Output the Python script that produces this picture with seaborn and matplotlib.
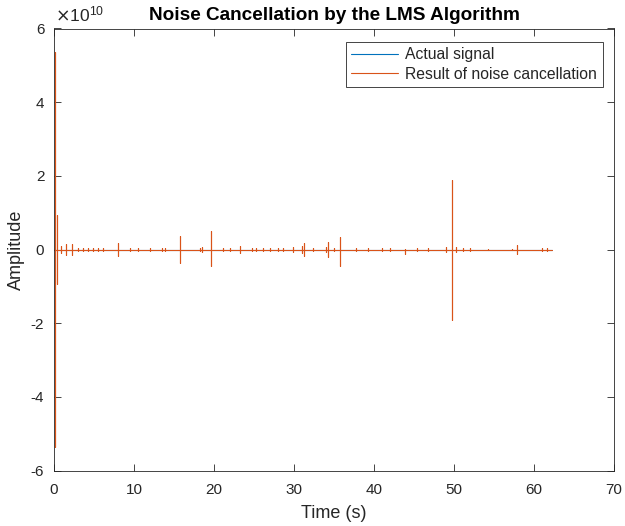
import numpy as np
import pandas as pd
import matplotlib
matplotlib.use("Agg")
import matplotlib.pyplot as plt
import seaborn as sns
from matplotlib.ticker import FuncFormatter
from matplotlib.lines import Line2D

# ---- data (amplitudes in units of 1e10) ----
spike_times = [0.15, 0.35, 0.4, 0.84, 1.5, 2.3, 3.0, 3.6, 4.3, 4.9, 5.5, 6.1, 8.0,
               9.5, 10.5, 12.0, 13.5, 13.9, 15.7, 18.3, 18.5, 19.6, 21.1, 22.0, 23.2,
               24.7, 25.3, 26.1, 27.0, 28.0, 28.6, 29.9, 31.0, 31.3, 32.4, 34.0, 34.3,
               35.0, 35.8, 37.8, 39.3, 41.0, 42.0, 43.9, 45.4, 46.8, 49.0, 49.8, 50.2,
               51.1, 52.0, 54.3, 57.3, 57.9, 61.0, 61.6]
spike_pos = [5.36, 0.45, 0.95, 0.10, 0.14, 0.14, 0.04, 0.04, 0.04, 0.04, 0.04, 0.04, 0.18,
             0.04, 0.04, 0.04, 0.04, 0.04, 0.36, 0.04, 0.08, 0.50, 0.03, 0.03, 0.10,
             0.03, 0.03, 0.03, 0.03, 0.03, 0.03, 0.06, 0.10, 0.19, 0.05, 0.08, 0.20,
             0.04, 0.33, 0.03, 0.03, 0.03, 0.03, 0.02, 0.03, 0.04, 0.08, 1.90, 0.08,
             0.03, 0.03, 0.02, 0.02, 0.12, 0.03, 0.03]
spike_neg = [-5.36, -0.45, -0.95, -0.10, -0.14, -0.14, -0.04, -0.04, -0.04, -0.04, -0.04, -0.04, -0.18,
             -0.04, -0.04, -0.04, -0.04, -0.04, -0.36, -0.04, -0.08, -0.45, -0.03, -0.03, -0.10,
             -0.03, -0.03, -0.03, -0.03, -0.03, -0.03, -0.06, -0.10, -0.19, -0.05, -0.08, -0.20,
             -0.04, -0.44, -0.03, -0.03, -0.03, -0.03, -0.12, -0.03, -0.04, -0.08, -1.92, -0.08,
             -0.03, -0.03, -0.02, -0.02, -0.12, -0.03, -0.03]
t_start, t_end = 0.0, 62.2
actual_times = [0.0, 62.2]
actual_values = [0.0, 0.0]
scale = 1e10

# build the cancellation result trace from the listed spikes
rt, ry = [t_start], [0.0]
for t, p, n in zip(spike_times, spike_pos, spike_neg):
    rt += [t, t, t, t]
    ry += [0.0, p * scale, n * scale, 0.0]
rt.append(t_end)
ry.append(0.0)

df = pd.concat([
    pd.DataFrame({"Time": actual_times, "Amp": actual_values, "Series": "Actual signal"}),
    pd.DataFrame({"Time": rt, "Amp": ry, "Series": "Result of noise cancellation"}),
], ignore_index=True)

sns.set_theme(style="white")
plt.rcParams["font.family"] = ["Liberation Sans", "DejaVu Sans"]
plt.rcParams["axes.unicode_minus"] = False

blue = (0.0, 0.447, 0.741)
orange = (0.85, 0.325, 0.098)
dark = "#262626"

fig = plt.figure(figsize=(6.25, 5.26), dpi=100)
ax = fig.add_axes([54 / 625, 1 - 470.5 / 526, (614 - 54) / 625, (470.5 - 28.5) / 526])

sns.lineplot(data=df, x="Time", y="Amp", hue="Series", estimator=None, sort=False,
             palette={"Actual signal": blue, "Result of noise cancellation": orange},
             linewidth=0.8, ax=ax, legend=False)

ax.set_xlim(0, 70)
ax.set_ylim(-6e10, 6e10)
ax.set_xticks(np.arange(0, 71, 10))
ax.set_yticks(np.arange(-6e10, 6.1e10, 2e10))
ax.yaxis.set_major_formatter(FuncFormatter(lambda v, p: f"{v / scale:g}"))

ax.tick_params(direction="in", length=5, width=0.6, colors=dark, labelsize=11, pad=7,
               top=True, right=True, bottom=True, left=True)
ax.tick_params(axis="x", pad=9)
for s in ax.spines.values():
    s.set_color(dark)
    s.set_linewidth(0.6)

fig.text(55 / 625, 1 - 21 / 526, r"$\times\mathregular{10^{10}}$", fontsize=12.5,
         color=dark, ha="left", va="baseline")

ax.set_xlabel("Time (s)", fontsize=13, color=dark, labelpad=6)
ax.set_ylabel("Amplitude", fontsize=13, color=dark, labelpad=4)
ax.set_title("Noise Cancellation by the LMS Algorithm", fontsize=13.7, fontweight="bold",
             pad=6, color="black")

handles = [Line2D([0], [0], color=blue, lw=0.8), Line2D([0], [0], color=orange, lw=0.8)]
leg = ax.legend(handles, ["Actual signal", "Result of noise cancellation"], loc="upper right",
                bbox_to_anchor=(602.7 / 625, 1 - 41.7 / 526), bbox_transform=fig.transFigure,
                fontsize=11.3, frameon=True, fancybox=False, framealpha=1, edgecolor=dark,
                borderpad=0.35, handlelength=3.0, handletextpad=0.45, labelspacing=0.3,
                borderaxespad=0)
leg.get_frame().set_linewidth(0.6)

fig.savefig("out.png", dpi=100)
